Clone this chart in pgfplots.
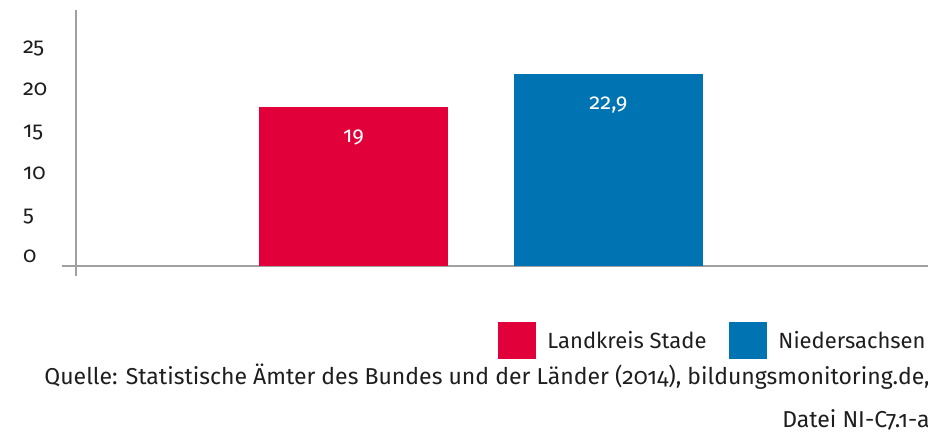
\documentclass[border=0pt]{standalone}
\usepackage{fontspec}
\setmainfont{Fira Sans}[Numbers=OldStyle]
\usepackage{pgfplots}
\pgfplotsset{compat=1.18}

\definecolor{stadered}{RGB}{226,0,58}
\definecolor{nsblue}{RGB}{0,116,179}
\definecolor{axisgray}{RGB}{160,160,160}
\definecolor{txt}{RGB}{30,30,30}

\begin{document}
\begin{tikzpicture}[font=\fontsize{11pt}{13pt}\selectfont, text=txt]
\begin{axis}[
    name=ax,
    width=426pt, height=128pt,
    scale only axis,
    ybar, bar width=0.741,
    bar shift=0pt,
    xmin=-0.088, xmax=3.253,
    ymin=0, ymax=30.5,
    axis x line=bottom, axis y line=left,
    axis line style={axisgray, line width=0.6pt, -},
    xtick=\empty,
    ytick={0,5,10,15,20,25},
    major tick length=0pt,
    yticklabel style={anchor=base west, xshift=-30pt, yshift=1.5pt},
    /pgf/number format/assume math mode=true,
    /pgf/number format/use comma,
    /pgf/number format/1000 sep={},
    nodes near coords,
    nodes near coords style={text=white, anchor=north, inner sep=0pt, yshift=-11.5pt},
    clip=false,
    legend columns=2,
    legend style={at={(rel axis cs:1,0)}, anchor=north east, xshift=1pt, yshift=-28pt,
        draw=none, fill=none, inner sep=0pt,
        /tikz/every odd column/.append style={column sep=3.5pt},
        /tikz/every even column/.append style={column sep=9.5pt}},
    legend cell align=left,
    legend image code/.code={\fill[#1] (0pt,-9pt) rectangle (19pt,9.5pt);},
]
\addplot[fill=stadered, draw=none] coordinates {(1,19)};
\addplot[fill=nsblue, draw=none] coordinates {(2,22.9)};
\legend{Landkreis Stade, Niedersachsen}
\coordinate (o) at (rel axis cs:0,0);
\coordinate (tr) at (rel axis cs:1,1);
\coordinate (br) at (rel axis cs:1,0);
\end{axis}
\draw[axisgray, line width=0.6pt] (o) -- ++(-7pt,0);
\draw[axisgray, line width=0.6pt] (o) -- ++(0,-5pt);
\begin{scope}[font=\fontsize{11.5pt}{13pt}\selectfont]
\node[anchor=base east, inner sep=0pt] at ([shift={(1pt,-59.5pt)}]br)
    {Quelle: Statistische Ämter des Bundes und der Länder (2014), bildungsmonitoring.de,};
\node[anchor=base east, inner sep=0pt] at ([shift={(1pt,-81pt)}]br)
    {Datei NI-C7.1-a};
\end{scope}
\path (o) ++(-38pt,-88.5pt) coordinate (bl);
\path (tr) ++(0,5pt) coordinate (ur);
\pgfresetboundingbox
\path (bl) rectangle (ur);
\end{tikzpicture}
\end{document}
